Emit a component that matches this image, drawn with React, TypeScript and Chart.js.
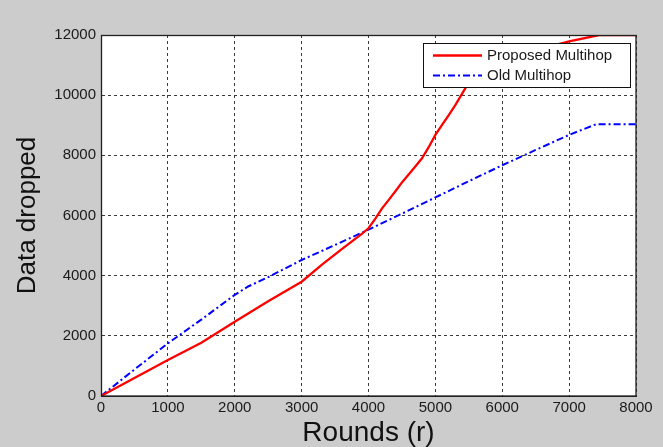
import React, { useEffect, useRef } from "react";
import { Chart, registerables } from "chart.js";

Chart.register(...registerables);

// Proposed Multihop (red)
const proposedRounds = [0, 500, 1000, 1500, 2000, 2500, 3000, 3300, 3600, 3900, 4000, 4100, 4200, 4300, 4400, 4500, 4600, 4700, 4800, 4900, 5000, 5100, 5200, 5300, 5400, 5500, 5700, 6000, 6500, 7000, 7450, 8000];
const proposedDropped = [0, 600, 1200, 1770, 2470, 3150, 3800, 4360, 4880, 5390, 5575, 5890, 6230, 6510, 6800, 7100, 7360, 7630, 7900, 8270, 8680, 9010, 9340, 9680, 10050, 10420, 10800, 11150, 11500, 11790, 12000, 12000];

// Old Multihop (blue)
const oldRounds = [0, 500, 1000, 1500, 2000, 2200, 2500, 3000, 3500, 4000, 4500, 5000, 5500, 6000, 6500, 7000, 7400, 8000];
const oldDropped = [0, 880, 1750, 2540, 3360, 3640, 3950, 4520, 5020, 5530, 6060, 6600, 7140, 7670, 8180, 8680, 9030, 9030];

const seriesLabels = ["Proposed Multihop", "Old Multihop"];
const xTitle = "Rounds (r)";
const yTitle = "Data dropped";

const FONT = "'Liberation Sans', Arial, Helvetica, sans-serif";

const bgPlugin = {
  id: "bgPlugin",
  beforeDraw(chart: any) {
    const { ctx, width, height, chartArea } = chart;
    ctx.save();
    ctx.fillStyle = "#cccccc";
    ctx.fillRect(0, 0, width, height);
    ctx.fillStyle = "#ffffff";
    ctx.fillRect(chartArea.left, chartArea.top, chartArea.right - chartArea.left, chartArea.bottom - chartArea.top);
    ctx.restore();
  },
  afterDatasetsDraw(chart: any) {
    const { ctx, chartArea } = chart;
    ctx.save();
    ctx.strokeStyle = "#202020";
    ctx.lineWidth = 1.3;
    ctx.setLineDash([]);
    ctx.strokeRect(chartArea.left + 0.5, chartArea.top + 0.5, chartArea.right - chartArea.left - 0.5, chartArea.bottom - chartArea.top - 0.5);
    ctx.restore();
  },
  afterDraw(chart: any) {
    const { ctx, chartArea } = chart;
    const w = 207;
    const h = 44;
    const x0 = chartArea.right - 6 - w;
    const y0 = chartArea.top + 8;
    ctx.save();
    ctx.fillStyle = "#ffffff";
    ctx.fillRect(x0, y0, w, h);
    ctx.strokeStyle = "#111111";
    ctx.lineWidth = 1;
    ctx.setLineDash([]);
    ctx.strokeRect(x0 + 0.5, y0 + 0.5, w, h);
    ctx.font = `15px ${FONT}`;
    ctx.textBaseline = "middle";
    ctx.textAlign = "left";
    chart.data.datasets.forEach((ds: any, i: number) => {
      const y = y0 + 12.5 + i * 20;
      ctx.beginPath();
      ctx.strokeStyle = ds.borderColor;
      ctx.lineWidth = ds.borderWidth;
      ctx.setLineDash(ds.borderDash || []);
      ctx.moveTo(x0 + 10, y);
      ctx.lineTo(x0 + 59, y);
      ctx.stroke();
      ctx.setLineDash([]);
      ctx.fillStyle = "#1a1a1a";
      ctx.fillText(ds.label, x0 + 64, y);
    });
    ctx.restore();
  },
};

const plainTick = (value: any) => String(value);

export default function App() {
  const canvasRef = useRef<HTMLCanvasElement | null>(null);

  useEffect(() => {
    if (!canvasRef.current) return;
    const chart = new Chart(canvasRef.current, {
      type: "line",
      data: {
        datasets: [
          {
            label: seriesLabels[0],
            data: proposedRounds.map((r, i) => ({ x: r, y: proposedDropped[i] })),
            borderColor: "#ff0000",
            borderWidth: 2.3,
            pointRadius: 0,
            tension: 0,
            fill: false,
          },
          {
            label: seriesLabels[1],
            data: oldRounds.map((r, i) => ({ x: r, y: oldDropped[i] })),
            borderColor: "#0000ff",
            borderWidth: 2,
            borderDash: [7, 3, 2, 3],
            pointRadius: 0,
            tension: 0,
            fill: false,
          },
        ],
      },
      options: {
        animation: false,
        responsive: false,
        events: [],
        layout: { padding: { left: 0, top: 35, right: 27, bottom: 0 } },
        plugins: { legend: { display: false }, tooltip: { enabled: false } },
        scales: {
          x: {
            type: "linear",
            min: 0,
            max: 8000,
            ticks: {
              stepSize: 1000,
              padding: 3,
              color: "#1a1a1a",
              font: { family: FONT, size: 15 },
              maxRotation: 0,
              callback: plainTick,
            },
            grid: { color: "#3a3a3a", lineWidth: 1, drawTicks: false },
            border: { display: true, color: "#202020", dash: [3, 3] },
            title: {
              display: true,
              text: xTitle,
              color: "#111111",
              font: { family: FONT, size: 28, lineHeight: 1 },
              padding: { top: 0, bottom: 0 },
            },
            afterFit: (scale: any) => {
              scale.height = 51;
            },
          },
          y: {
            type: "linear",
            min: 0,
            max: 12000,
            ticks: {
              stepSize: 2000,
              padding: 5,
              color: "#1a1a1a",
              font: { family: FONT, size: 15 },
              callback: plainTick,
            },
            grid: { color: "#3a3a3a", lineWidth: 1, drawTicks: false },
            border: { display: true, color: "#202020", dash: [3, 3] },
            title: {
              display: true,
              text: yTitle,
              color: "#111111",
              font: { family: FONT, size: 26, lineHeight: 1.2 },
              padding: { top: 12, bottom: 0 },
            },
            afterFit: (scale: any) => {
              scale.width = 101;
            },
          },
        },
      },
      plugins: [bgPlugin],
    });
    return () => chart.destroy();
  }, []);

  return (
    <div style={{ position: "fixed", left: 0, top: 0, width: 663, height: 447, background: "#cccccc" }}>
      <canvas ref={canvasRef} width={663} height={447} style={{ display: "block", width: 663, height: 447 }} />
    </div>
  );
}
